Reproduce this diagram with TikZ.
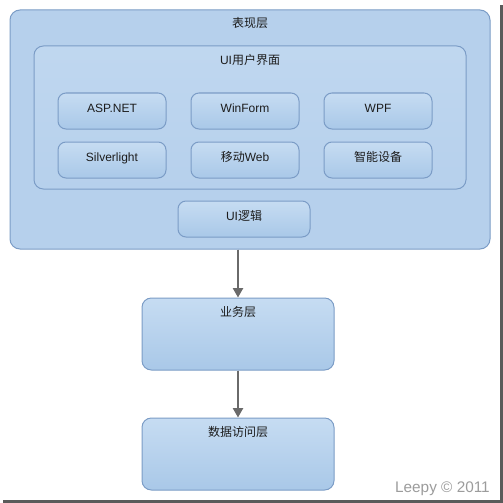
\documentclass[tikz,border=0pt]{standalone}
\usepackage{fontspec}
\setmainfont{Liberation Sans}
\newfontfamily\cjk{Noto Sans CJK SC}
\usetikzlibrary{arrows.meta,positioning}
\definecolor{boxtop}{HTML}{C6DCF2}
\definecolor{boxbot}{HTML}{A9C8E8}
\definecolor{panelfill}{HTML}{B6D0EC}
\definecolor{boxline}{HTML}{7B9CC6}
\definecolor{arrowgray}{HTML}{6A6A6A}
\definecolor{textdark}{HTML}{1C1C1C}
\definecolor{credit}{HTML}{9C9C9C}
\definecolor{frameshadow}{HTML}{5A5A5A}
\tikzset{
  panel/.style={draw=boxline,fill=panelfill,line width=0.75pt,rounded corners=7.5pt},
  inner/.style={draw=boxline,top color=boxtop!60!panelfill,bottom color=panelfill,
    line width=0.75pt,rounded corners=7pt},
  tech/.style={draw=boxline,top color=boxtop,bottom color=boxbot,line width=0.75pt,
    rounded corners=6pt,minimum width=81pt,minimum height=27pt,inner sep=0pt,
    text height=6pt,text depth=4pt,font=\fontsize{9}{10}\selectfont,text=textdark},
  layer/.style={draw=boxline,top color=boxtop,bottom color=boxbot,line width=0.75pt,
    rounded corners=7pt,minimum width=144pt,minimum height=54pt,inner sep=0pt},
  title/.style={inner sep=0pt,font=\fontsize{9}{10}\selectfont,text=textdark},
  flow/.style={-{Triangle[length=7pt,width=7.5pt]},draw=arrowgray,fill=arrowgray,line width=1.5pt}
}
\begin{document}
\begin{tikzpicture}[x=0.75pt,y=-0.75pt,node distance=9pt and 18pt]
  \fill[white] (0,0) rectangle (503,503);
  \useasboundingbox (0,0) rectangle (503,503);
  % frame shadow
  \fill[frameshadow] (499.5,5) rectangle (503,503);
  \fill[frameshadow] (3,499.5) rectangle (503,503);

  % presentation layer
  \node[panel,minimum width=360pt,minimum height=179.25pt,inner sep=0pt] (pres) at (250,129.5) {};
  \node[title] (presT) at ([yshift=-9.75pt]pres.north) {\cjk 表现层};
  \node[inner,minimum width=324pt,minimum height=107.25pt,inner sep=0pt] (ui) at (250,117.5) {};
  \node[title] (uiT) at ([yshift=-10.5pt]ui.north) {UI\cjk 用户界面};

  \node[tech] (asp) at (112,111) {ASP.NET};
  \node[tech,right=of asp] (winform) {WinForm};
  \node[tech,right=of winform] (wpf) {WPF};
  \node[tech,below=of asp] (silver) {Silverlight};
  \node[tech,below=of winform] (mobile) {\cjk 移动\rmfamily Web};
  \node[tech,below=of wpf] (smart) {\cjk 智能设备};

  \node[tech,minimum width=99pt] (uilogic) at (244,219) {UI\cjk 逻辑};

  % lower layers
  \node[layer] (biz) at (238,334) {};
  \node[title] (bizT) at ([yshift=-10.5pt]biz.north) {\cjk 业务层};
  \node[layer] (data) at (238,454) {};
  \node[title] (dataT) at ([yshift=-11pt]data.north) {\cjk 数据访问层};

  \draw[flow] (pres.south -| biz.north) -- (biz.north);
  \draw[flow] (biz) -- (data);

  \node[anchor=east,inner sep=0pt,text=credit,font=\fontsize{11.5}{12}\selectfont] (sign) at (490,489) {Leepy \textcopyright{} 2011};
\end{tikzpicture}
\end{document}
